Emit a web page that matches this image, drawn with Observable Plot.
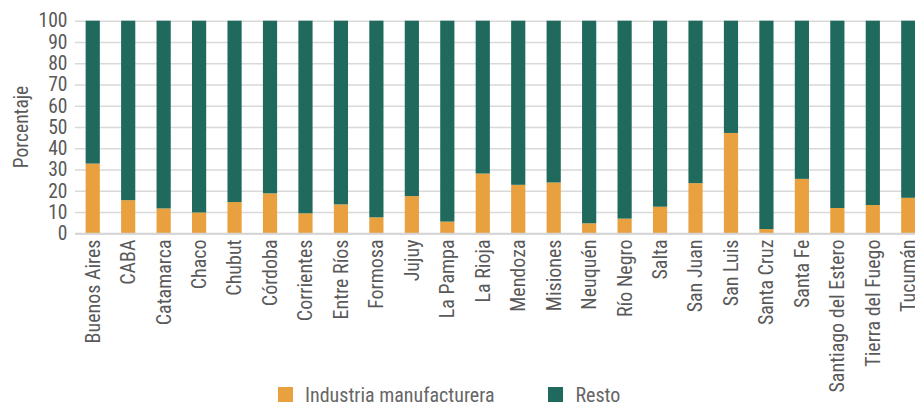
<!DOCTYPE html>
<html>
<head>
<meta charset="utf-8">
<script src="https://cdn.jsdelivr.net/npm/d3@7"></script>
<script src="https://cdn.jsdelivr.net/npm/@observablehq/plot@0.6"></script>
<style>
  html, body { margin: 0; padding: 0; background: #fff; overflow: hidden; width: 915px; height: 402px; }
  #chart { position: absolute; left: 0; top: 0; }
  #legend { position: absolute; left: 278px; top: 385px; font-family: Roboto, "Liberation Sans", sans-serif; font-stretch: 75%; font-size: 21px; line-height: 21px; color: #666; white-space: nowrap; }
  .sw { display: inline-block; width: 15px; height: 15px; vertical-align: baseline; margin-right: 12px; }
  .item { display: inline-block; }
  #probe { position: absolute; visibility: hidden; white-space: nowrap; font-family: Roboto, "Liberation Sans", sans-serif; font-stretch: 75%; font-size: 21px; }
</style>
</head>
<body>
<div id="chart"></div>
<div id="legend"></div>
<span id="probe">Buenos Aires</span>
<script>
const provincias = ["Buenos Aires", "CABA", "Catamarca", "Chaco", "Chubut", "Córdoba", "Corrientes", "Entre Ríos", "Formosa", "Jujuy", "La Pampa", "La Rioja", "Mendoza", "Misiones", "Neuquén", "Río Negro", "Salta", "San Juan", "San Luis", "Santa Cruz", "Santa Fe", "Santiago del Estero", "Tierra del Fuego", "Tucumán"];
const industria = [32.8, 15.6, 11.7, 9.8, 14.7, 18.8, 9.4, 13.6, 7.5, 17.5, 5.5, 28.1, 22.8, 23.9, 4.7, 6.9, 12.5, 23.6, 47.2, 2.0, 25.6, 11.9, 13.3, 16.7];
const resto = [67.2, 84.4, 88.3, 90.2, 85.3, 81.2, 90.6, 86.4, 92.5, 82.5, 94.5, 71.9, 77.2, 76.1, 95.3, 93.1, 87.5, 76.4, 52.8, 98.0, 74.4, 88.1, 86.7, 83.3];
const series = ["Industria manufacturera", "Resto"];
const colores = ["#E9A13F", "#1F6A5C"];
const yTicks = [0, 10, 20, 30, 40, 50, 60, 70, 80, 90, 100];
const yLabel = "Porcentaje";

const fontFam = 'Roboto, "Liberation Sans", sans-serif';
const probeW = document.getElementById("probe").getBoundingClientRect().width;
const k = Math.min(1, 104 / probeW);
const fx = 21 * k, fy = 20.5 * k;

const data = provincias.flatMap((p, i) => [
  {provincia: p, serie: series[0], valor: industria[i]},
  {provincia: p, serie: series[1], valor: resto[i]}
]);

const chart = Plot.plot({
  width: 915,
  height: 386,
  marginLeft: 75,
  marginRight: 0,
  marginTop: 20,
  marginBottom: 153,
  style: {fontFamily: fontFam, fontStretch: "75%", fontSize: "20px", color: "#595959", background: "transparent", overflow: "visible"},
  x: {domain: provincias, range: [75, 926], paddingInner: 0.6, paddingOuter: 0.3, round: false},
  y: {domain: [0, 100], range: [233.3, 20.7]},
  color: {domain: series, range: colores},
  marks: [
    Plot.gridY(yTicks, {stroke: "#d9d9d9", strokeOpacity: 1, strokeWidth: 1.5}),
    Plot.barY(data, {x: "provincia", y: "valor", fill: "serie"}),
    Plot.ruleY([0], {stroke: "#d4d4d4", strokeWidth: 2}),
    Plot.axisX({tickRotate: -90, tickSize: 0, tickPadding: 6, fontSize: fx, label: null}),
    Plot.axisY(yTicks, {tickSize: 0, tickPadding: 8, fontSize: fy, label: null}),
    Plot.text([yLabel], {frameAnchor: "left", dx: -48, rotate: -90, lineAnchor: "bottom", textAnchor: "middle", fontSize: fy, fill: "#595959"})
  ]
});
document.getElementById("chart").appendChild(chart);

const legend = document.getElementById("legend");
legend.style.fontSize = (21 * k) + "px";
series.forEach((s, i) => {
  const item = document.createElement("span");
  item.className = "item";
  if (i > 0) item.style.marginLeft = "54px";
  const sw = document.createElement("span");
  sw.className = "sw";
  sw.style.background = colores[i];
  item.appendChild(sw);
  item.appendChild(document.createTextNode(s));
  legend.appendChild(item);
});
</script>
</body>
</html>
